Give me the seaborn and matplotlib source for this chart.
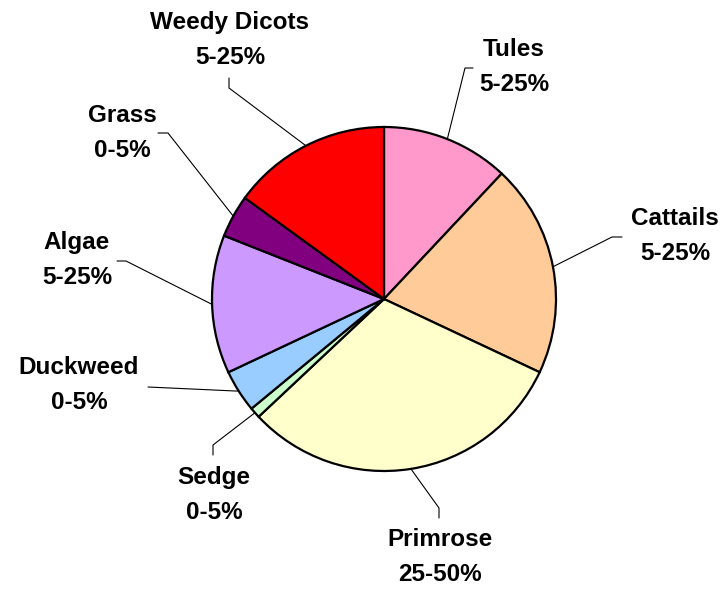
import numpy as np
import matplotlib
matplotlib.use("Agg")
import matplotlib.pyplot as plt
import seaborn as sns

sns.set_theme(style="white")
plt.rcParams['font.family'] = ['Liberation Sans', 'DejaVu Sans']

# Data (clockwise from 12 o'clock)
categories = ["Tules", "Cattails", "Primrose", "Sedge", "Duckweed", "Algae", "Grass", "Weedy Dicots"]
values = [12, 20, 31, 1, 4, 13, 4, 15]
ranges = ["5-25%", "5-25%", "25-50%", "0-5%", "0-5%", "5-25%", "0-5%", "5-25%"]
colors = ["#FF99CC", "#FFCC99", "#FFFFCC", "#CCFFCC", "#99CCFF", "#CC99FF", "#800080", "#FF0000"]

W, H = 725, 593
fig = plt.figure(figsize=(W / 100, H / 100), dpi=100)
ax = fig.add_axes([0, 0, 1, 1])

cx, cy, R = 384, H - 299, 172
wedges, _ = ax.pie(values, colors=colors, startangle=90, counterclock=False,
                   center=(cx, cy), radius=R, frame=True,
                   wedgeprops=dict(edgecolor='black', linewidth=1.6))
ax.set_xlim(0, W)
ax.set_ylim(0, H)
ax.set_aspect('equal')
ax.axis('off')

# layout: label centre (px, top-origin) and leader elbow points
label_pos = {
    "Tules": (514, 67), "Cattails": (675, 236), "Primrose": (440, 557),
    "Sedge": (214, 495), "Duckweed": (79, 385), "Algae": (77, 260),
    "Grass": (122, 133), "Weedy Dicots": (230, 40),
}
elbows = {
    "Tules": [(465, 68), (473, 68)], "Cattails": [(612, 237), (622, 237)],
    "Primrose": [(439, 508), (439, 518)], "Sedge": [(213, 445), (213, 455)],
    "Duckweed": [(148, 387)], "Algae": [(126, 261), (117, 261)],
    "Grass": [(168, 133), (158, 133)], "Weedy Dicots": [(229, 88), (229, 78)],
}

for w, name, rng in zip(wedges, categories, ranges):
    mid = np.deg2rad((w.theta1 + w.theta2) / 2)
    sx, sy = cx + R * np.cos(mid), cy + R * np.sin(mid)
    pts = [(sx, sy)] + [(x, H - y) for x, y in elbows[name]]
    xs, ys = zip(*pts)
    ax.plot(xs, ys, color='black', linewidth=0.8, zorder=0.5)
    lx, ly = label_pos[name]
    ax.text(lx, H - ly, f"{name}\n{rng}", ha='center', va='center',
            fontsize=17.5, fontweight='bold', linespacing=1.7, color='black')

fig.savefig("out.png", dpi=100)
